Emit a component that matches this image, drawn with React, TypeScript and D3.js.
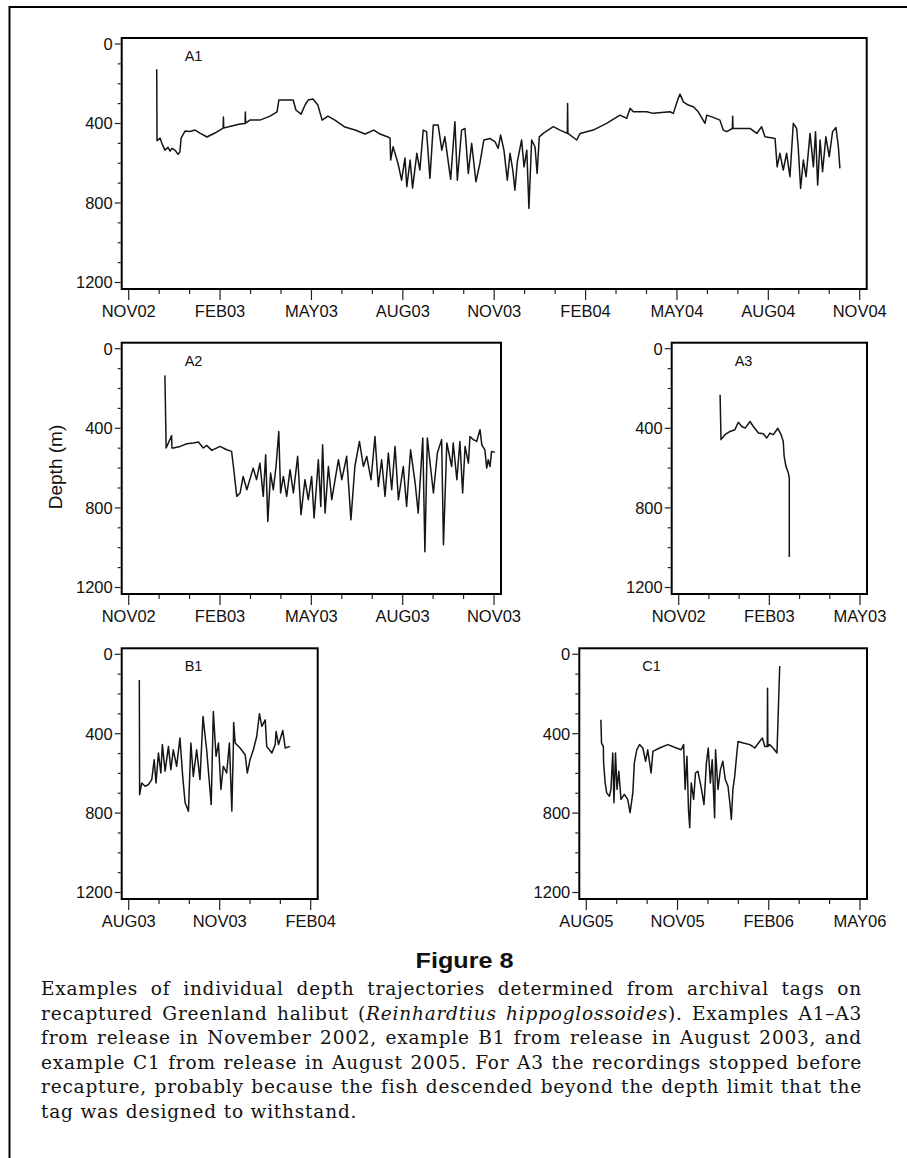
import { useEffect, useRef } from 'react';
import * as d3 from 'd3';

type Pt = [number, number];

// depth traces: [months since first labelled tick, depth in m]
const a1Trace: Pt[] = [
  [0.92, 127], [0.93, 487], [1.03, 473], [1.09, 500], [1.19, 534], [1.29, 520], [1.36, 539], [1.42, 525],
  [1.52, 534], [1.62, 555], [1.68, 544], [1.72, 473], [1.85, 438], [2.01, 440], [2.18, 433], [2.34, 448],
  [2.57, 468], [2.83, 448], [3.10, 423], [3.11, 367], [3.12, 423], [3.65, 403], [3.82, 400], [3.83, 342],
  [3.84, 398], [3.98, 383], [4.31, 383], [4.64, 363], [4.87, 342], [4.93, 282], [5.40, 282], [5.49, 332],
  [5.66, 353], [5.79, 307], [5.89, 282], [6.05, 277], [6.21, 307], [6.35, 383], [6.54, 363], [6.77, 383],
  [7.10, 418], [7.43, 433], [7.76, 453], [8.05, 433], [8.25, 453], [8.51, 468],
  [8.58, 474], [8.60, 584], [8.68, 517], [8.84, 600], [8.96, 685], [9.07, 574], [9.13, 718], [9.24, 584],
  [9.32, 725], [9.46, 550], [9.56, 634], [9.67, 433], [9.78, 441], [9.89, 676], [10.00, 408], [10.16, 408],
  [10.28, 534], [10.38, 467], [10.57, 681], [10.71, 391], [10.79, 685], [10.93, 433], [11.04, 425], [11.15, 651],
  [11.26, 500], [11.40, 693], [11.53, 601], [11.66, 483], [11.86, 475], [12.03, 492], [12.13, 525], [12.21, 458],
  [12.32, 534], [12.43, 685], [12.52, 550], [12.61, 634], [12.68, 735], [12.76, 592], [12.90, 483], [12.98, 618],
  [13.07, 534], [13.14, 827], [13.23, 483], [13.34, 517], [13.41, 651], [13.48, 467], [13.61, 450], [13.94, 416],
  [14.16, 433], [14.40, 450], [14.41, 299], [14.42, 450], [14.71, 483], [14.82, 450], [15.25, 433], [15.69, 399],
  [16.13, 358], [16.35, 374], [16.46, 324], [16.57, 341], [17.01, 341], [17.22, 349], [17.77, 341], [17.88, 349],
  [18.04, 274], [18.10, 252], [18.21, 291], [18.37, 307], [18.54, 316], [18.70, 341], [18.92, 399], [18.98, 358],
  [19.19, 369], [19.41, 383], [19.52, 433], [19.63, 441], [19.82, 425], [19.83, 363], [19.84, 425], [20.07, 425],
  [20.40, 425], [20.62, 450], [20.78, 416], [20.89, 467], [21.22, 475], [21.29, 618], [21.38, 550], [21.49, 634],
  [21.60, 550], [21.71, 668], [21.82, 399], [21.93, 425], [21.98, 517], [22.06, 727], [22.15, 584], [22.24, 668],
  [22.37, 450], [22.48, 618], [22.55, 441], [22.62, 710], [22.70, 483], [22.78, 643], [22.89, 467], [23.00, 567],
  [23.11, 441], [23.22, 420], [23.30, 517], [23.35, 626],
];

const a2Trace: Pt[] = [
  [1.19, 134], [1.23, 499], [1.41, 437], [1.42, 499], [1.47, 499], [1.69, 491], [1.91, 478], [2.12, 474],
  [2.29, 469], [2.45, 499], [2.56, 486], [2.73, 511], [3.00, 491], [3.22, 508], [3.38, 516], [3.44, 592],
  [3.55, 742], [3.66, 725], [3.76, 642], [3.88, 709], [4.09, 600], [4.20, 658], [4.31, 575], [4.42, 742],
  [4.50, 533], [4.57, 868], [4.66, 625], [4.75, 709], [4.84, 592], [4.93, 416], [4.99, 725], [5.08, 642],
  [5.19, 742], [5.30, 608], [5.41, 725], [5.55, 541], [5.66, 834], [5.79, 658], [5.90, 759], [6.01, 642],
  [6.09, 851], [6.23, 558], [6.31, 793], [6.37, 483], [6.45, 826], [6.56, 592], [6.67, 759], [6.78, 658],
  [6.89, 558], [7.00, 658], [7.16, 541], [7.30, 860], [7.43, 592], [7.58, 466], [7.71, 592], [7.82, 541],
  [7.96, 658], [8.09, 441], [8.20, 692], [8.31, 558], [8.42, 742], [8.53, 524], [8.64, 709], [8.75, 491],
  [8.86, 759], [9.02, 592], [9.13, 793], [9.26, 508], [9.41, 675], [9.51, 826], [9.66, 449], [9.73, 1020],
  [9.81, 449], [10.01, 725], [10.14, 524], [10.28, 457], [10.34, 985], [10.45, 474], [10.61, 592], [10.66, 474],
  [10.78, 658], [10.88, 466], [10.97, 725], [11.05, 491], [11.16, 575], [11.21, 441], [11.32, 457], [11.43, 466],
  [11.54, 407], [11.60, 483], [11.70, 508], [11.76, 600], [11.81, 558], [11.87, 592], [11.92, 516], [12.03, 521],
];

const a3Trace: Pt[] = [
  [1.37, 231], [1.40, 457], [1.53, 432], [1.70, 416], [1.86, 407], [1.97, 370], [2.09, 391], [2.20, 399],
  [2.36, 366], [2.47, 391], [2.64, 424], [2.80, 427], [2.91, 449], [3.02, 424], [3.13, 432], [3.28, 400],
  [3.39, 432], [3.46, 466], [3.49, 541], [3.55, 592], [3.63, 625], [3.66, 650], [3.66, 1047],
];

const b1Trace: Pt[] = [
  [0.35, 129], [0.36, 707], [0.43, 648], [0.54, 665], [0.65, 656], [0.76, 631], [0.84, 531], [0.90, 648],
  [0.98, 497], [1.06, 598], [1.11, 455], [1.20, 589], [1.31, 464], [1.39, 581], [1.47, 481], [1.58, 564],
  [1.69, 422], [1.78, 615], [1.86, 748], [1.97, 790], [2.05, 447], [2.13, 615], [2.24, 481], [2.35, 631],
  [2.45, 313], [2.49, 372], [2.57, 481], [2.72, 757], [2.79, 288], [2.88, 514], [2.96, 447], [3.04, 681],
  [3.12, 564], [3.23, 598], [3.32, 447], [3.40, 790], [3.45, 464], [3.46, 343], [3.51, 447], [3.67, 472],
  [3.84, 506], [3.91, 598], [4.00, 531], [4.11, 481], [4.22, 414], [4.31, 300], [4.39, 363], [4.50, 330],
  [4.55, 464], [4.72, 497], [4.83, 455], [4.86, 389], [4.94, 455], [5.08, 384], [5.16, 472], [5.32, 464],
];

const c1Trace: Pt[] = [
  [0.48, 330], [0.50, 447], [0.56, 464], [0.57, 547], [0.62, 648], [0.67, 698], [0.76, 715], [0.81, 681],
  [0.87, 497], [0.91, 748], [0.96, 497], [1.01, 681], [1.07, 589], [1.14, 731], [1.25, 706], [1.36, 731],
  [1.44, 798], [1.53, 698], [1.58, 547], [1.66, 481], [1.75, 455], [1.86, 472], [1.95, 539], [2.02, 481],
  [2.13, 598], [2.19, 489], [2.41, 472], [2.68, 455], [2.96, 472], [3.12, 481], [3.20, 455], [3.25, 681],
  [3.31, 514], [3.36, 782], [3.40, 874], [3.45, 648], [3.53, 731], [3.59, 598], [3.67, 589], [3.78, 673],
  [3.87, 757], [3.95, 547], [4.01, 472], [4.08, 648], [4.14, 531], [4.22, 824], [4.25, 481], [4.33, 681],
  [4.41, 581], [4.49, 539], [4.57, 631], [4.66, 665], [4.72, 748], [4.77, 832], [4.82, 681], [4.88, 615],
  [4.94, 514], [4.99, 439], [5.16, 447], [5.38, 455], [5.54, 472], [5.70, 439], [5.79, 422], [5.87, 464],
  [5.95, 464], [5.96, 171], [5.97, 464], [6.03, 455], [6.14, 472], [6.27, 497], [6.36, 59],
];

// x tick labels, one every 3 months
const a1Labels = ['NOV02', 'FEB03', 'MAY03', 'AUG03', 'NOV03', 'FEB04', 'MAY04', 'AUG04', 'NOV04'];
const a2Labels = ['NOV02', 'FEB03', 'MAY03', 'AUG03', 'NOV03'];
const a3Labels = ['NOV02', 'FEB03', 'MAY03'];
const b1Labels = ['AUG03', 'NOV03', 'FEB04'];
const c1Labels = ['AUG05', 'NOV05', 'FEB06', 'MAY06'];

const depthTicks = [0, 400, 800, 1200];

const captionLines = [
  'Examples of individual depth trajectories determined from archival tags on',
  'recaptured Greenland halibut (',
  'from release in November 2002, example B1 from release in August 2003, and',
  'example C1 from release in August 2005. For A3 the recordings stopped before',
  'recapture, probably because the fish descended beyond the depth limit that the',
  'tag was designed to withstand.',
];
const speciesName = 'Reinhardtius hippoglossoides';
const afterSpecies = '). Examples A1–A3';

const SANS = '"Liberation Sans", Arial, Helvetica, sans-serif';
const CAP_LEFT = 41;
const CAP_RIGHT = 862;

interface Box { x: number; y: number; w: number; h: number }

const Panel = ({ name, trace, labels, box }: { name: string; trace: Pt[]; labels: string[]; box: Box }) => {
  const months = (labels.length - 1) * 3;
  const x = d3.scaleLinear().domain([0, months]).range([box.x + 7, box.x + box.w - 7]);
  const y = d3.scaleLinear().domain([0, 1200]).range([box.y + 6, box.y + box.h - 6.5]);
  const line = d3.line<Pt>().x(d => x(d[0])).y(d => y(d[1]));
  const bottom = box.y + box.h;

  return (
    <g>
      <path d={line(trace) ?? ''} fill="none" stroke="#151515" strokeWidth={1.5} strokeLinejoin="round" />
      <rect x={box.x} y={box.y} width={box.w} height={box.h} fill="none" stroke="#000" strokeWidth={2} />
      {d3.range(0, 1201, 100).map(v => (
        <line key={'y' + v} x1={box.x - (v % 400 === 0 ? 7 : 4)} x2={box.x - 1} y1={y(v)} y2={y(v)}
          stroke="#222" strokeWidth={1.2} />
      ))}
      {depthTicks.map(v => (
        <text key={'yl' + v} x={box.x - 9} y={y(v)} dy="0.36em" textAnchor="end"
          fontFamily={SANS} fontSize={16.5} fill="#111">{v}</text>
      ))}
      {d3.range(0, months + 1).map(m => (
        <line key={'x' + m} x1={x(m)} x2={x(m)} y1={bottom + 1} y2={bottom + (m % 3 === 0 ? 11 : 5)}
          stroke="#222" strokeWidth={1.2} />
      ))}
      {labels.map((l, i) => (
        <text key={l} x={x(i * 3)} y={bottom + 28} textAnchor="middle"
          fontFamily={SANS} fontSize={16.5} fill="#111">{l}</text>
      ))}
      <text x={box.x + 63} y={box.y + 23} fontFamily={SANS} fontSize={14.5} fill="#111">{name}</text>
    </g>
  );
};

export default function App() {
  const capRef = useRef<SVGGElement | null>(null);

  // justify caption lines by stretching the word gaps only
  useEffect(() => {
    const g = capRef.current;
    if (!g) return;
    g.querySelectorAll<SVGTextElement>('text[data-justify]').forEach(t => {
      t.setAttribute('word-spacing', '0');
      const len = t.getComputedTextLength();
      const spaces = (t.textContent ?? '').split(' ').length - 1;
      if (spaces > 0) t.setAttribute('word-spacing', String((CAP_RIGHT - CAP_LEFT - len) / spaces));
    });
  }, []);

  const capTop = 995;
  const capStep = 24.6;

  return (
    <svg width={907} height={1158} viewBox="0 0 907 1158"
      style={{ position: 'absolute', left: 0, top: 0, background: '#fff' }}>
      <path d="M9.5,1158 V7 H907" fill="none" stroke="#000" strokeWidth={2} />

      <Panel name="A1" trace={a1Trace} labels={a1Labels} box={{ x: 121.7, y: 38, w: 745, h: 251 }} />
      <Panel name="A2" trace={a2Trace} labels={a2Labels} box={{ x: 121.7, y: 342.7, w: 379.3, h: 251.3 }} />
      <Panel name="A3" trace={a3Trace} labels={a3Labels} box={{ x: 671.7, y: 342.7, w: 195.3, h: 251.3 }} />
      <Panel name="B1" trace={b1Trace} labels={b1Labels} box={{ x: 121.7, y: 648.3, w: 196, h: 250.7 }} />
      <Panel name="C1" trace={c1Trace} labels={c1Labels} box={{ x: 579.3, y: 648.3, w: 287.7, h: 250.7 }} />

      <text transform="translate(55,467) rotate(-90)" textAnchor="middle" dy="0.35em"
        fontFamily={SANS} fontSize={19} fill="#111">Depth (m)</text>

      <text x={464.6} y={968} textAnchor="middle" fontFamily={SANS} fontWeight="bold" fontSize={22}
        textLength={98} lengthAdjust="spacingAndGlyphs" fill="#111">Figure 8</text>

      <g ref={capRef} fontFamily='"DejaVu Serif", serif' fontSize={18.5} letterSpacing={0.8} fill="#111">
        {captionLines.map((l, i) => {
          const yy = capTop + i * capStep;
          const last = i === captionLines.length - 1;
          if (i === 1) {
            return (
              <text key={i} data-justify="1" x={CAP_LEFT} y={yy}>
                {l}<tspan fontStyle="italic">{speciesName}</tspan>{afterSpecies}
              </text>
            );
          }
          return last
            ? <text key={i} x={CAP_LEFT} y={yy}>{l}</text>
            : <text key={i} data-justify="1" x={CAP_LEFT} y={yy}>{l}</text>;
        })}
      </g>
    </svg>
  );
}
